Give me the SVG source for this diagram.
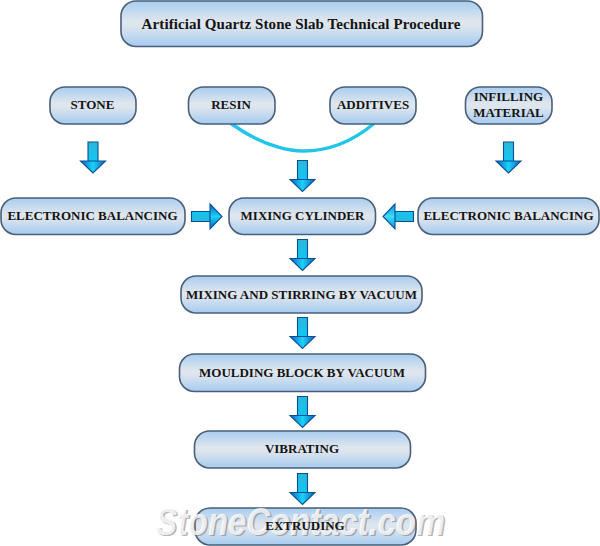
<svg xmlns="http://www.w3.org/2000/svg" xmlns:xlink="http://www.w3.org/1999/xlink" width="600" height="546" viewBox="0 0 600 546">
<style>
.box{fill:url(#boxFill);stroke:#4a5f78;stroke-width:1.6}
.lbl{font-family:"Liberation Serif","Times New Roman",serif;font-weight:bold;font-size:13px;fill:#141414;text-anchor:middle}
.a{stroke:#0a4f96;stroke-width:1.1}
.sv{fill:url(#shaftV)}
.hv{fill:url(#headV)}
.sh{fill:url(#shaftH)}
.hh{fill:url(#headH)}
.hr{fill:url(#headR)}
.wm{font-family:"Liberation Sans",Arial,sans-serif;font-weight:bold;font-style:italic;font-size:39px;text-anchor:middle}
</style>
<defs>
<linearGradient id="boxFill" x1="0" y1="0" x2="0" y2="1">
<stop offset="0" stop-color="#a9cdf0"/><stop offset=".45" stop-color="#dfe6ee"/><stop offset=".55" stop-color="#dde5ee"/><stop offset="1" stop-color="#a5cbf1"/>
</linearGradient>
<linearGradient id="shaftV" x1="0" y1="0" x2="0" y2="1"><stop offset="0" stop-color="#2ab8d8"/><stop offset="1" stop-color="#12c6f5"/></linearGradient>
<linearGradient id="headV" x1="0" y1="0" x2="1" y2="0"><stop offset="0" stop-color="#0a62c4"/><stop offset=".5" stop-color="#1cd2f8"/><stop offset="1" stop-color="#0a62c4"/></linearGradient>
<linearGradient id="shaftH" x1="0" y1="0" x2="0" y2="1"><stop offset="0" stop-color="#12c6f5"/><stop offset="1" stop-color="#2ab8d8"/></linearGradient>
<linearGradient id="headH" x1="0" y1="0" x2="0" y2="1"><stop offset="0" stop-color="#0a62c4"/><stop offset=".5" stop-color="#1cd2f8"/><stop offset="1" stop-color="#0a62c4"/></linearGradient>
<linearGradient id="headR" x1="0" y1="0" x2="0" y2="1"><stop offset="0" stop-color="#1290dc"/><stop offset=".5" stop-color="#3adcfa"/><stop offset="1" stop-color="#1290dc"/></linearGradient>
<g id="down" class="a">
<path class="sv" d="M-5-15.500H5V4H-5Z"/>
<path class="hv" d="M-12.500 3.500H12.500L0 15.500Z"/>
</g>
</defs>
<rect width="600" height="546" fill="#fff"/>
<g id="connectors">
<path d="M231 123.500C268 150 296 151 303 151C320 151 346 147 374 123.500" fill="none" stroke="#22c4ec" stroke-width="3.400"/>
<use xlink:href="#down" x="93" y="157.500"/>
<use xlink:href="#down" x="302.500" y="176"/>
<use xlink:href="#down" x="508.500" y="157.500"/>
<g id="arrow-right" class="a"><path class="sh" d="M191.500 211.500H210.500V221.500H191.500Z"/><path class="hh" d="M210 204L222 216.500 210 229Z"/></g>
<g id="arrow-left" class="a"><path class="sh" d="M413.500 211.500H394.500V221.500H413.500Z"/><path class="hr" d="M395 204L383 216.500 395 229Z"/></g>
<use xlink:href="#down" x="302.500" y="255"/>
<use xlink:href="#down" x="302.500" y="333"/>
<use xlink:href="#down" x="302.500" y="412"/>
<use xlink:href="#down" x="302.500" y="489"/>
</g>
<g id="title"><rect class="box" x="121" y="1" width="361.500" height="45.500" rx="15"/><text class="lbl" x="301" y="29" style="font-size:15px;letter-spacing:.1px">Artificial Quartz Stone Slab Technical Procedure</text></g>
<g id="stone"><rect class="box" x="50" y="87" width="86" height="37" rx="15"/><text class="lbl" x="92.500" y="109">STONE</text></g>
<g id="resin"><rect class="box" x="188.500" y="87" width="86.500" height="37" rx="15"/><text class="lbl" x="231" y="109">RESIN</text></g>
<g id="additives"><rect class="box" x="330" y="87" width="86" height="37" rx="15"/><text class="lbl" x="373" y="109">ADDITIVES</text></g>
<g id="infilling"><rect class="box" x="465.500" y="87" width="86.500" height="37" rx="15"/><text class="lbl" x="508.500" y="101">INFILLING</text><text class="lbl" x="508.500" y="117">MATERIAL</text></g>
<g id="balancing-left"><rect class="box" x="1" y="198" width="184" height="36.500" rx="15"/><text class="lbl" x="92.500" y="220">ELECTRONIC BALANCING</text></g>
<g id="mixing-cylinder"><rect class="box" x="229" y="198" width="146.500" height="36.500" rx="15"/><text class="lbl" x="302.500" y="220">MIXING CYLINDER</text></g>
<g id="balancing-right"><rect class="box" x="418" y="198" width="181" height="36.500" rx="15"/><text class="lbl" x="508.500" y="220">ELECTRONIC BALANCING</text></g>
<g id="stirring"><rect class="box" x="181" y="276" width="241" height="37" rx="15"/><text class="lbl" x="301.500" y="299">MIXING AND STIRRING BY VACUUM</text></g>
<g id="moulding"><rect class="box" x="179.500" y="354" width="246" height="37.500" rx="15"/><text class="lbl" x="302" y="377">MOULDING BLOCK BY VACUUM</text></g>
<g id="vibrating"><rect class="box" x="194.500" y="431" width="216" height="37" rx="15"/><text class="lbl" x="302" y="453">VIBRATING</text></g>
<g id="extruding"><rect class="box" x="195" y="508" width="221" height="37" rx="15"/></g>
<g id="watermark">
<text class="wm" x="301.500" y="536" fill="#777" opacity=".55" textLength="290" lengthAdjust="spacingAndGlyphs">StoneContact.com</text>
<text class="wm" x="300" y="534.500" fill="#fff" fill-opacity=".8" textLength="290" lengthAdjust="spacingAndGlyphs">StoneContact.com</text>
</g>
<g id="extruding-label"><text class="lbl" x="305" y="530">EXTRUDING</text></g>
</svg>
